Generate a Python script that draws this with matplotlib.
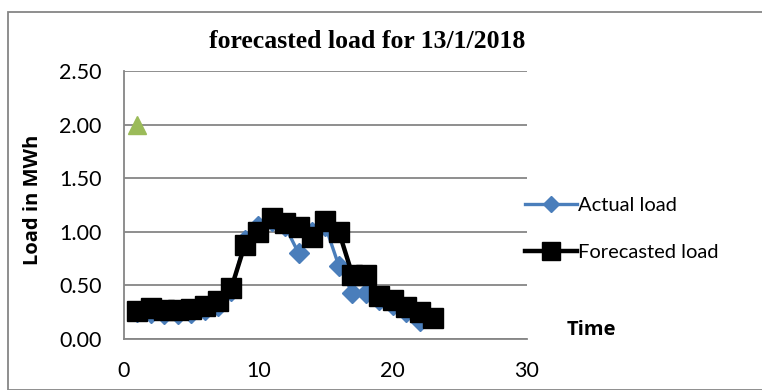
import matplotlib

matplotlib.use("Agg")
import matplotlib.pyplot as plt
from matplotlib.patches import Rectangle

# hourly load for 13/1/2018 (MWh)
hours = list(range(1, 24))
actual_load = [0.25, 0.24, 0.23, 0.23, 0.24, 0.27, 0.31, 0.45, 0.92, 1.05, 1.10, 1.05,
               0.80, 1.00, 1.05, 0.68, 0.43, 0.43, 0.36, 0.32, 0.25, 0.17, 0.20]
forecast_load = [0.26, 0.29, 0.27, 0.27, 0.28, 0.31, 0.35, 0.48, 0.88, 1.00, 1.13, 1.08,
                 1.04, 0.95, 1.10, 1.00, 0.60, 0.60, 0.40, 0.36, 0.30, 0.25, 0.20]
marker_x = [1]
marker_y = [2.0]

y_ticks = [0.0, 0.5, 1.0, 1.5, 2.0, 2.5]
x_ticks = [0, 10, 20, 30]

BLUE = "#4A7EBB"
GREEN = "#9BBB59"
GRID = "#868686"
TICK_FONT = ["Lato", "DejaVu Sans"]
BOLD_FONT = ["Open Sans", "DejaVu Sans"]

fig = plt.figure(figsize=(7.62, 3.90), dpi=100)
ax = fig.add_axes([0.1627, 0.1308, 0.5289, 0.6872])

ax.plot(hours, actual_load, color=BLUE, lw=2.4, marker="D", ms=10,
        markeredgecolor=BLUE, label="Actual load", zorder=3)
ax.plot(hours, forecast_load, color="black", lw=3.2, marker="s", ms=15,
        label="Forecasted load", zorder=4)
ax.plot(marker_x, marker_y, linestyle="none", marker="^", ms=13, color=GREEN, zorder=5)

ax.set_xlim(0, 30)
ax.set_ylim(0, 2.5)
ax.set_xticks(x_ticks)
ax.set_yticks(y_ticks)
ax.set_yticklabels([f"{v:.2f}" for v in y_ticks])
for lbl in ax.get_xticklabels() + ax.get_yticklabels():
    lbl.set_fontfamily(TICK_FONT)
    lbl.set_fontsize(15.5)
ax.tick_params(axis="y", length=0, pad=16)
ax.tick_params(axis="x", length=0, pad=16)

ax.grid(axis="y", color=GRID, lw=1.3)
ax.set_axisbelow(True)
for side in ("top", "right"):
    ax.spines[side].set_visible(False)
for side in ("left", "bottom"):
    ax.spines[side].set_color(GRID)
    ax.spines[side].set_linewidth(1.3)

ax.set_ylabel("Load in MWh", fontsize=14.5, fontweight="bold", family=BOLD_FONT)
ax.yaxis.set_label_coords(-0.2, 0.52)
fig.text(567 / 762, 1 - 330 / 390, "Time", fontsize=14.5, fontweight="bold",
         family=BOLD_FONT, ha="left", va="center")

fig.text(367 / 762, 1 - 41 / 390, "forecasted load for 13/1/2018", fontsize=18.5,
         fontweight="bold", family="Liberation Serif", ha="center", va="center")

fig.legend(loc="center left", bbox_to_anchor=(507 / 762, 1 - 229 / 390), frameon=False,
           prop={"family": TICK_FONT, "size": 14.5}, handlelength=2.6, handletextpad=0.05,
           labelspacing=1.45, markerscale=0.85)

# chart area border
fig.patches.append(Rectangle((8 / 762, 0), 1.2, 1 - 12 / 390, transform=fig.transFigure,
                             fill=False, edgecolor=GRID, lw=1.3))

fig.savefig("out.png", dpi=100)
